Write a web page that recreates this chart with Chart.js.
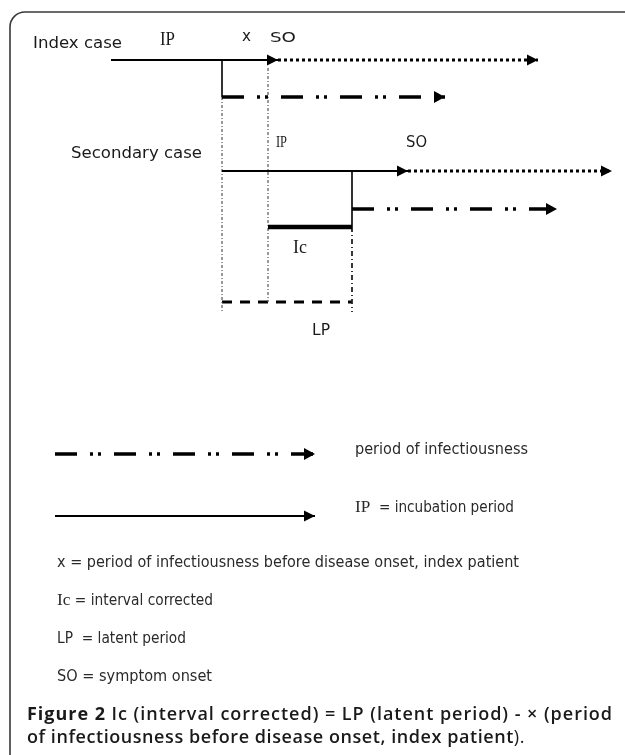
<!DOCTYPE html>
<html>
<head>
<meta charset="utf-8">
<script src="https://cdn.jsdelivr.net/npm/chart.js@4.4.0/dist/chart.umd.min.js"></script>
<style>
html, body { margin: 0; padding: 0; background: #fff; }
#wrap { width: 625px; height: 755px; }
</style>
</head>
<body>
<div id="wrap"><canvas id="diagrama" width="625" height="755"></canvas></div>
<script>
// --- DATOS: tramos del esquema (eje horizontal = tiempo, eje vertical = fila) ---
const segNames = ["Index IP", "Index SO", "Index link", "Index infectious",
    "Secondary IP", "Secondary SO", "Secondary link", "Ic", "Secondary infectious",
    "Guide infectious start", "Guide index onset", "Guide LP end", "LP",
    "Legend infectious", "Legend IP"];
const segKind = ["incubation", "symptoms", "link", "infectious",
    "incubation", "symptoms", "link", "ic", "infectious",
    "guide", "guide", "guideBold", "lp",
    "infectious", "incubation"];
const segT = [[111, 278], [278, 538], [222, 222], [222, 445],
    [222, 408], [408, 612], [352, 352], [268, 352], [352, 557],
    [222, 222], [268, 268], [352, 352], [222, 352],
    [55, 315], [55, 315]];
const segRow = [[60, 60], [60, 60], [60, 97], [97, 97],
    [171, 171], [171, 171], [171, 227], [227, 227], [209, 209],
    [97, 312], [68, 302], [227, 312], [302, 302],
    [454, 454], [516, 516]];

// textos
const etiquetas = ["Index case", "IP", "x", "SO", "Secondary case", "IP", "SO", "Ic", "LP"];
const leyendaClave = ["", "IP", "x", "Ic", "LP", "SO"];
const leyendaTexto = ["period of infectiousness", "  = incubation period",
    " = period of infectiousness before disease onset, index patient",
    " = interval corrected", "  = latent period", " = symptom onset"];
const pieNegrita = "Figure 2 ";
const pieTitulo = ["Ic (interval corrected) = LP (latent period) - \u00d7 (period",
    "of infectiousness before disease onset, index patient"];
const pieFinal = ").";

// --- ESTILOS ---
const estilos = {
    incubation: { borderColor: "#000", borderWidth: 2, arrow: [11, 5.5] },
    symptoms:   { borderColor: "#000", borderWidth: 3, borderDash: [3, 3], arrow: [11, 5.5] },
    link:       { borderColor: "#000", borderWidth: 1.6 },
    infectious: { borderColor: "#000", borderWidth: 3.3, borderDash: [22, 13, 3, 5, 3, 13], arrow: [11, 6] },
    ic:         { borderColor: "#000", borderWidth: 4.5 },
    guide:      { borderColor: "#555", borderWidth: 1.2, borderDash: [3, 2, 1, 2] },
    guideBold:  { borderColor: "#222", borderWidth: 1.8, borderDash: [5, 3, 1, 3] },
    lp:         { borderColor: "#000", borderWidth: 3, borderDash: [10, 8] }
};

const SANS = '"DejaVu Sans", Verdana, sans-serif';
const SERIF = '"Liberation Serif", "DejaVu Serif", serif';
const NARROW = '"Liberation Sans Narrow", "DejaVu Sans Condensed", "Liberation Sans", sans-serif';
const CAP = '"Open Sans", "Noto Sans", sans-serif';

// posición y tamaño de cada etiqueta: [x, línea base, ancho, fuente]
const posEtiquetas = [
    [33, 48, 89, "16px " + SANS],
    [160, 45, 15, "18px " + SERIF],
    [242, 41, 9, "15px " + SANS],
    [270, 42, 26, "14.5px " + SANS],
    [71, 158, 131, "15.5px " + SANS],
    [276, 147, 11, "16px " + SERIF],
    [406, 147, 21, "16px " + SANS],
    [293, 253, 14, "18px " + SERIF],
    [312, 335, 18, "16px " + SANS]
];
const posLeyenda = [
    [355, 454, 173], [355, 512, 159], [57, 567, 462],
    [57, 605, 156], [57, 643, 129], [57, 681, 155]
];

// dibuja trozos de texto con fuentes distintas ajustados a un ancho dado
function dibujarRuns(ctx, runs, x, y, ancho, color, espaciado) {
    ctx.save();
    let total = 0, letras = 0;
    runs.forEach(r => { ctx.font = r.f; total += ctx.measureText(r.t).width; letras += r.t.length; });
    if (espaciado && ancho > total) {
        ctx.letterSpacing = ((ancho - total) / letras) + "px";
    }
    let medido = 0;
    runs.forEach(r => { ctx.font = r.f; r.w = ctx.measureText(r.t).width; medido += r.w; });
    const sx = ancho ? ancho / medido : 1;
    ctx.translate(x, y);
    ctx.scale(sx, 1);
    ctx.fillStyle = color;
    ctx.textBaseline = "alphabetic";
    let cx = 0;
    runs.forEach(r => { ctx.font = r.f; ctx.fillText(r.t, cx, 0); cx += r.w; });
    ctx.restore();
}

// --- PLUGINS ---
const marco = {
    id: "marco",
    beforeDatasetsDraw(chart) {
        const ctx = chart.ctx;
        const sx = chart.scales.x, sy = chart.scales.y;
        const l = sx.getPixelForValue(10), t = sy.getPixelForValue(12);
        ctx.save();
        ctx.strokeStyle = "#3a3a3a";
        ctx.lineWidth = 1.6;
        ctx.beginPath();
        ctx.moveTo(l, sy.getPixelForValue(755));
        ctx.lineTo(l, t + 15);
        ctx.arcTo(l, t, l + 15, t, 15);
        ctx.lineTo(sx.getPixelForValue(625), t);
        ctx.stroke();
        ctx.restore();
    }
};

const flechas = {
    id: "flechas",
    afterDatasetsDraw(chart) {
        const ctx = chart.ctx;
        chart.data.datasets.forEach((ds, i) => {
            if (!ds.arrow) return;
            const pts = chart.getDatasetMeta(i).data;
            const a = pts[pts.length - 2], b = pts[pts.length - 1];
            const ang = Math.atan2(b.y - a.y, b.x - a.x);
            ctx.save();
            ctx.translate(b.x, b.y);
            ctx.rotate(ang);
            ctx.beginPath();
            ctx.moveTo(0, 0);
            ctx.lineTo(-ds.arrow[0], -ds.arrow[1]);
            ctx.lineTo(-ds.arrow[0], ds.arrow[1]);
            ctx.closePath();
            ctx.fillStyle = "#000";
            ctx.fill();
            ctx.restore();
        });
    }
};

const textos = {
    id: "textos",
    afterDraw(chart) {
        const ctx = chart.ctx;
        const sx = chart.scales.x, sy = chart.scales.y;
        const px = v => sx.getPixelForValue(v), py = v => sy.getPixelForValue(v);

        etiquetas.forEach((t, i) => {
            const p = posEtiquetas[i];
            dibujarRuns(ctx, [{ t: t, f: p[3] }], px(p[0]), py(p[1]), p[2], "#1a1a1a");
        });

        leyendaTexto.forEach((t, i) => {
            const p = posLeyenda[i];
            const runs = [];
            const clave = leyendaClave[i];
            if (clave) runs.push({ t: clave, f: (clave === "IP" || clave === "Ic" ? "17px " + SERIF : "15px " + NARROW) });
            runs.push({ t: t, f: "15px " + NARROW });
            dibujarRuns(ctx, runs, px(p[0]), py(p[1]), p[2], "#2a2a2a");
        });

        dibujarRuns(ctx, [
            { t: pieNegrita, f: "700 18px " + CAP },
            { t: pieTitulo[0], f: "600 18px " + CAP }
        ], px(27), py(720), 586, "#1a1a1a", true);
        dibujarRuns(ctx, [
            { t: pieTitulo[1], f: "600 18px " + CAP },
            { t: pieFinal, f: "400 18px " + CAP }
        ], px(27), py(743), 498, "#1a1a1a", true);
    }
};

// --- GRÁFICO ---
const datasets = segT.map((ts, i) => Object.assign({
    label: segNames[i],
    data: ts.map((t, j) => ({ x: t, y: segRow[i][j] })),
    showLine: true,
    fill: false,
    tension: 0,
    pointRadius: 0,
    pointHoverRadius: 0,
    borderCapStyle: "butt",
    clip: false
}, estilos[segKind[i]]));

new Chart(document.getElementById("diagrama"), {
    type: "scatter",
    data: { datasets: datasets },
    options: {
        responsive: false,
        animation: false,
        events: [],
        layout: { padding: 0 },
        plugins: { legend: { display: false }, tooltip: { enabled: false } },
        scales: {
            x: { type: "linear", min: 0, max: 625, display: false },
            y: { type: "linear", min: 0, max: 755, reverse: true, display: false }
        }
    },
    plugins: [marco, flechas, textos]
});
</script>
</body>
</html>
